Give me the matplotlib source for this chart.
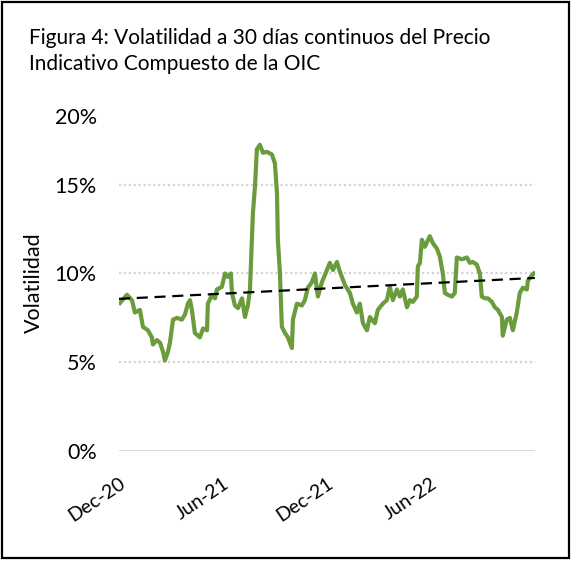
import matplotlib
matplotlib.use("Agg")
import matplotlib.pyplot as plt
import matplotlib.transforms as mtransforms
from matplotlib.patches import Rectangle

# months elapsed since Dec-20
months = [0.06, 0.46, 0.75, 0.92, 1.21, 1.38, 1.67, 1.90, 1.96, 2.19,
          2.37, 2.54, 2.65, 2.83, 2.94, 3.12, 3.35, 3.63, 3.81, 3.98,
          4.10, 4.21, 4.38, 4.67, 4.85, 5.08, 5.13, 5.37, 5.54, 5.65,
          5.94, 6.12, 6.29, 6.46, 6.52, 6.69, 6.87, 7.10, 7.27, 7.44,
          7.56, 7.67, 7.73, 7.85, 7.96, 8.13, 8.31, 8.54, 8.83, 9.00,
          9.12, 9.17, 9.29, 9.40, 9.58, 9.75, 9.98, 10.04, 10.27, 10.56,
          10.73, 10.90, 11.13, 11.31, 11.48, 11.71, 12.00, 12.17, 12.35, 12.58,
          12.75, 13.04, 13.33, 13.50, 13.73, 13.90, 14.08, 14.31, 14.48, 14.77,
          14.94, 15.23, 15.46, 15.63, 15.81, 16.04, 16.21, 16.38, 16.62, 16.79,
          16.96, 17.19, 17.25, 17.37, 17.48, 17.65, 17.94, 18.12, 18.35, 18.52,
          18.69, 18.81, 18.98, 19.21, 19.38, 19.50, 19.79, 20.08, 20.25, 20.42,
          20.65, 20.83, 20.94, 21.12, 21.29, 21.52, 21.69, 21.87, 22.10, 22.15,
          22.38, 22.56, 22.73, 22.96, 23.13, 23.31, 23.54, 23.60, 23.83, 23.94]

# 30-day volatility, %
volatility = [8.34, 8.8, 8.5, 7.8, 7.95, 7.0, 6.8, 6.4, 6.0, 6.25,
              6.1, 5.6, 5.1, 5.6, 6.1, 7.4, 7.5, 7.4, 7.7, 8.3,
              8.5, 7.95, 6.65, 6.4, 6.9, 6.8, 8.3, 8.8, 8.6, 9.1,
              9.25, 10.0, 9.8, 10.0, 8.9, 8.2, 8.05, 8.6, 7.55, 8.2,
              9.1, 11.9, 13.4, 14.9, 17.0, 17.25, 16.8, 16.85, 16.7, 16.2,
              14.5, 11.9, 10.0, 7.0, 6.65, 6.4, 5.8, 7.4, 8.3, 8.2,
              8.5, 9.2, 9.5, 10.0, 8.7, 9.5, 10.2, 10.6, 10.2, 10.65,
              10.1, 9.35, 8.9, 8.3, 7.8, 8.3, 7.2, 6.8, 7.55, 7.2,
              7.95, 8.3, 8.5, 9.25, 8.5, 9.1, 8.7, 9.1, 8.1, 8.5,
              8.4, 8.7, 10.4, 10.6, 11.9, 11.5, 12.1, 11.7, 11.4, 10.95,
              10.0, 8.9, 8.8, 8.7, 8.9, 10.9, 10.8, 10.9, 10.6, 10.65,
              10.5, 10.0, 8.7, 8.6, 8.6, 8.4, 8.1, 7.95, 7.55, 6.5,
              7.4, 7.5, 6.8, 7.8, 8.9, 9.2, 9.1, 9.6, 9.9, 10.0]

# linear trend (start / end), %
trend_x = [0.0, 24.0]
trend_y = [8.57, 9.75]

tick_months = [0, 6, 12, 18]
tick_labels = ["Dec-20", "Jun-21", "Dec-21", "Jun-22"]
y_ticks = [0, 5, 10, 15, 20]

plt.rcParams["font.family"] = "Lato"

fig = plt.figure(figsize=(5.72, 5.61), dpi=100)
ax = fig.add_axes([0.208, 0.196, 0.727, 0.633])

ax.plot(months, volatility, color="#6A9B3D", lw=3.0, solid_joinstyle="round", zorder=3)
ax.plot(trend_x, trend_y, color="black", lw=1.6, ls=(0, (5, 3)), zorder=4)

ax.set_xlim(0, 24)
ax.set_ylim(0, 20)
for v in (5, 10, 15):
    ax.axhline(v, color="#D4D4D4", lw=1.6, ls=(0, (1, 1.2)), zorder=1)
ax.axhline(0, color="#D9D9D9", lw=1.4, zorder=1)

for s in ax.spines.values():
    s.set_visible(False)

ax.set_yticks(y_ticks)
ax.set_yticklabels([f"{v}%" for v in y_ticks], fontsize=15.5)
ax.set_xticks(tick_months)
ax.set_xticklabels(tick_labels, fontsize=14, rotation=34, ha="right",
                   rotation_mode="anchor")
ax.tick_params(axis="x", length=0, pad=17)
ax.tick_params(axis="y", length=0, pad=16)

# top label sits a little below the 20% line in the source
lbl = ax.get_yticklabels()[-1]
lbl.set_transform(lbl.get_transform() + mtransforms.ScaledTranslation(0, -0.2, fig.dpi_scale_trans))

ax.set_ylabel("Volatilidad", fontsize=15.5)
ax.yaxis.set_label_coords(-0.18, 0.473)

fig.text(0.05, 0.922, "Figura 4: Volatilidad a 30 días continuos del Precio",
         fontsize=15, va="baseline", ha="left")
fig.text(0.05, 0.875, "Indicativo Compuesto de la OIC",
         fontsize=15, va="baseline", ha="left")

fig.patches.append(Rectangle((0.003, 0.006), 0.992, 0.99, transform=fig.transFigure,
                             fill=False, edgecolor="black", lw=1.6))

fig.savefig("out.png", dpi=100)
